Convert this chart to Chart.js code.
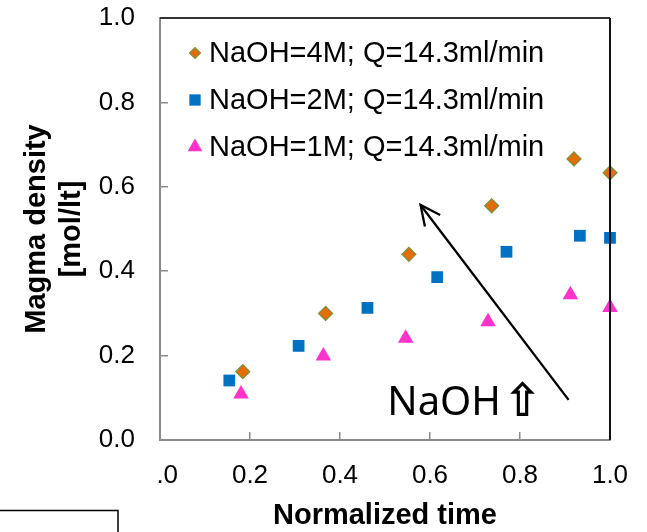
<!DOCTYPE html>
<html><head><meta charset="utf-8">
<script src="https://cdn.jsdelivr.net/npm/chart.js@4/dist/chart.umd.min.js"></script>
<style>html,body{margin:0;padding:0;background:#fff}#wrap{width:647px;height:532px;position:relative}</style>
</head><body><div id="wrap"><canvas id="c" width="647" height="532"></canvas></div>
<script>
// ---- data ----
const seriesLabels = ['NaOH=4M; Q=14.3ml/min', 'NaOH=2M; Q=14.3ml/min', 'NaOH=1M; Q=14.3ml/min'];
const time4M = [0.184, 0.368, 0.553, 0.737, 0.920, 1.000];
const dens4M = [0.162, 0.300, 0.440, 0.555, 0.666, 0.633];
const time2M = [0.154, 0.308, 0.461, 0.616, 0.770, 0.933, 1.000];
const dens2M = [0.141, 0.223, 0.313, 0.386, 0.446, 0.484, 0.479];
const time1M = [0.180, 0.363, 0.546, 0.729, 0.912, 1.000];
const dens1M = [0.109, 0.199, 0.241, 0.280, 0.344, 0.314];
const xTickValues = [0.0, 0.2, 0.4, 0.6, 0.8, 1.0];
const yTickValues = [0.0, 0.2, 0.4, 0.6, 0.8, 1.0];
const xTitle = 'Normalized time';
const yTitle = ['Magma density', '[mol/lt]'];
const noteText = 'NaOH';
const noteArrow = '\u21E7';
// annotation arrow (data coordinates)
const arrowTail = {x: 0.908, y: 0.095};
const arrowTip = {x: 0.579, y: 0.557};
const notePos = {x: 0.505, y: 0.059};

const pts = (xs, ys) => xs.map((v, i) => ({x: v, y: ys[i]}));
const AX = '"Liberation Sans", Arial, sans-serif';
const axisGray = '#8a8a8a';

const styles = [
  {pointStyle: 'rectRot', radius: 7, backgroundColor: '#E46C0A', borderColor: '#77933C', borderWidth: 1.2, legendRadius: 5.5},
  {pointStyle: 'rect', radius: 8.3, backgroundColor: '#0070C0', borderColor: '#0070C0', borderWidth: 0, legendRadius: 8},
  {pointStyle: 'triangle', radius: 9, backgroundColor: '#FF33CC', borderColor: '#FF33CC', borderWidth: 0, legendRadius: 8.5}
];
const seriesData = [pts(time4M, dens4M), pts(time2M, dens2M), pts(time1M, dens1M)];

const deco = {
  id: 'deco',
  afterDraw(chart) {
    const {ctx, chartArea: a, scales: {x, y}} = chart;
    ctx.save();
    // top and right frame of plot area
    ctx.strokeStyle = '#333'; ctx.lineWidth = 2;
    ctx.beginPath(); ctx.moveTo(a.left, a.top); ctx.lineTo(a.right, a.top); ctx.stroke();
    ctx.strokeStyle = '#111';
    ctx.beginPath(); ctx.moveTo(a.right, a.top); ctx.lineTo(a.right, a.bottom); ctx.stroke();
    // the reference shows the first x label cropped to ".0"
    ctx.fillStyle = '#fff';
    ctx.fillRect(a.left - 32, a.bottom + 15, 30, 40);
    // bottom-left box fragment
    ctx.strokeStyle = '#000'; ctx.lineWidth = 1.5;
    ctx.beginPath(); ctx.moveTo(0, 510.5); ctx.lineTo(118, 510.5); ctx.lineTo(118, 532); ctx.stroke();
    // legend
    ctx.font = '29px ' + AX;
    ctx.textBaseline = 'middle'; ctx.textAlign = 'left'; ctx.fillStyle = '#000';
    seriesLabels.forEach((lab, i) => {
      const yy = a.top + 35 + i * 47;
      const s = styles[i];
      ctx.fillStyle = s.backgroundColor; ctx.strokeStyle = s.borderColor; ctx.lineWidth = s.borderWidth;
      Chart.helpers.drawPoint(ctx, {pointStyle: s.pointStyle, radius: s.legendRadius, rotation: 0, borderWidth: s.borderWidth}, a.left + 35, yy);
      ctx.fillStyle = '#000';
      ctx.fillText(lab, a.left + 49, yy + 1);
    });
    // arrow
    const tx = x.getPixelForValue(arrowTail.x), ty = y.getPixelForValue(arrowTail.y);
    const hx = x.getPixelForValue(arrowTip.x), hy = y.getPixelForValue(arrowTip.y);
    ctx.strokeStyle = '#000'; ctx.lineWidth = 2.3; ctx.lineCap = 'butt';
    ctx.beginPath(); ctx.moveTo(tx, ty); ctx.lineTo(hx, hy); ctx.stroke();
    const ang = Math.atan2(hy - ty, hx - tx);
    const L = 22, w = 0.45;
    ctx.beginPath();
    ctx.moveTo(hx - L * Math.cos(ang - w), hy - L * Math.sin(ang - w));
    ctx.lineTo(hx, hy);
    ctx.lineTo(hx - L * Math.cos(ang + w), hy - L * Math.sin(ang + w));
    ctx.stroke();
    // note text
    const nx = x.getPixelForValue(notePos.x), ny = y.getPixelForValue(notePos.y);
    ctx.font = '40px "Noto Sans", "DejaVu Sans", sans-serif';
    ctx.textBaseline = 'alphabetic'; ctx.fillStyle = '#000';
    ctx.fillText(noteText, nx, ny);
    const w1 = ctx.measureText(noteText).width;
    ctx.font = 'bold 46px "DejaVu Sans", sans-serif';
    ctx.fillText(noteArrow, nx + w1 + 2, ny + 1);
    ctx.restore();
  }
};

new Chart(document.getElementById('c'), {
  type: 'scatter',
  data: {
    datasets: seriesData.map((d, i) => ({
      label: seriesLabels[i], data: d,
      pointStyle: styles[i].pointStyle, pointRadius: styles[i].radius, pointHoverRadius: styles[i].radius,
      backgroundColor: styles[i].backgroundColor, borderColor: styles[i].borderColor,
      pointBorderWidth: styles[i].borderWidth, borderWidth: styles[i].borderWidth,
      showLine: false, clip: false
    }))
  },
  options: {
    responsive: false, animation: false, devicePixelRatio: 1,
    layout: {padding: {left: 0, right: 37, top: 18, bottom: 0}},
    plugins: {legend: {display: false}, tooltip: {enabled: false}},
    scales: {
      x: {
        type: 'linear', min: 0, max: 1,
        afterBuildTicks: s => { s.ticks = xTickValues.map(v => ({value: v})); },
        afterFit: s => { s.height = 92; s.paddingLeft = 0; s.paddingRight = 0; s.paddingTop = 0; s.paddingBottom = 0; },
        ticks: {color: '#000', font: {family: AX, size: 26, lineHeight: 1.2}, padding: 28, maxRotation: 0, autoSkip: false,
          callback: v => Number(v).toFixed(1)},
        grid: {drawOnChartArea: false, drawTicks: true, tickLength: -8, color: axisGray, lineWidth: 1.5},
        border: {display: true, color: axisGray, width: 2},
        title: {display: true, text: xTitle, color: '#000', font: {family: AX, size: 29, weight: 'bold', lineHeight: 1.0}, padding: {top: 0, bottom: 2}}
      },
      y: {
        type: 'linear', min: 0, max: 1,
        afterBuildTicks: s => { s.ticks = yTickValues.map(v => ({value: v})); },
        afterFit: s => { s.width = 160; s.paddingLeft = 0; s.paddingRight = 0; s.paddingTop = 0; s.paddingBottom = 0; },
        ticks: {color: '#000', font: {family: AX, size: 26, lineHeight: 1.2}, padding: 33, autoSkip: false,
          callback: v => Number(v).toFixed(1)},
        grid: {drawOnChartArea: false, drawTicks: true, tickLength: -8, color: axisGray, lineWidth: 1.5},
        border: {display: true, color: axisGray, width: 2},
        title: {display: true, text: yTitle, color: '#000', font: {family: AX, size: 29, weight: 'bold', lineHeight: 1.2}, padding: {top: 20, bottom: 0}}
      }
    }
  },
  plugins: [deco]
});
</script>
</body></html>
